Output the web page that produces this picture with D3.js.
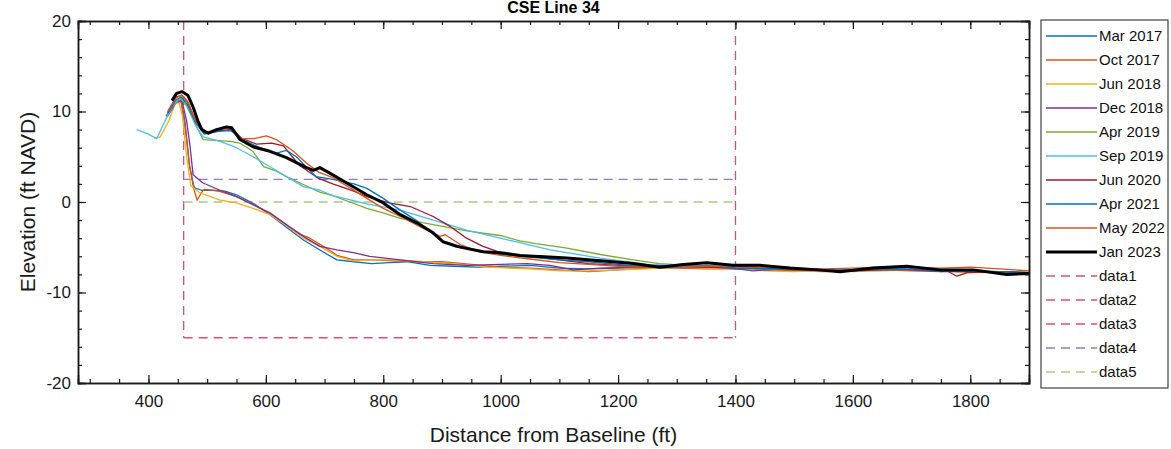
<!DOCTYPE html>
<html>
<head>
<meta charset="utf-8">
<script src="https://cdn.jsdelivr.net/npm/d3@7"></script>
<style>
  body { margin: 0; background: #fff; }
  svg { font-family: "Liberation Sans", Arial, sans-serif; }
</style>
</head>
<body>
<svg width="1171" height="449"></svg>
<script>
// survey profiles, [distance ft, elevation ft NAVD]
var mar2017 = [[430,9.5],[445,11.0],[455,11.3],[462,9],[470,4],[478,1.6],[490,1.3],[510,1.3],[530,1.2],[550,0.8],[580,-0.2],[607,-1.4],[635,-2.8],[664,-4.2],[692,-5.3],[721,-6.4],[750,-6.6],[780,-6.8],[810,-6.7],[840,-6.6],[880,-7.0],[920,-7.1],[960,-7.2],[1000,-7.1],[1050,-7.0],[1100,-7.3],[1150,-7.4],[1200,-7.3],[1250,-7.2],[1300,-7.1],[1350,-7.2],[1400,-7.4],[1450,-7.4],[1500,-7.5],[1550,-7.6],[1600,-7.5],[1650,-7.4],[1700,-7.5],[1750,-7.6],[1800,-7.7],[1850,-7.7],[1900,-7.8]];
var oct2017 = [[432,9.8],[447,11.3],[456,11.0],[463,8],[470,4],[477,1.5],[483,0.2],[490,1.0],[495,1.4],[520,1.2],[550,0.6],[580,-0.3],[607,-1.3],[640,-2.8],[660,-3.6],[675,-4.0],[690,-4.6],[705,-5.2],[721,-5.9],[750,-6.4],[780,-6.4],[820,-6.5],[860,-6.6],[900,-6.6],[950,-6.9],[1000,-7.2],[1050,-7.3],[1100,-7.5],[1150,-7.7],[1200,-7.5],[1250,-7.3],[1300,-7.3],[1350,-7.4],[1400,-7.4],[1450,-7.5],[1500,-7.6],[1550,-7.7],[1600,-7.6],[1650,-7.5],[1700,-7.6],[1750,-7.7],[1800,-7.7],[1850,-7.8],[1900,-7.9]];
var jun2018 = [[410,7.0],[420,7.2],[435,9],[445,10.8],[452,11.0],[458,9.5],[465,5],[472,1.8],[488,1.0],[522,0.2],[550,-0.1],[578,-0.7],[607,-1.4],[635,-2.6],[664,-4.0],[692,-4.9],[721,-6.0],[749,-6.5],[777,-6.4],[820,-6.4],[870,-6.6],[920,-6.8],[980,-7.2],[1050,-7.4],[1100,-7.6],[1150,-7.6],[1200,-7.5],[1250,-7.4],[1300,-7.2],[1350,-7.3],[1400,-7.3],[1450,-7.6],[1500,-7.7],[1550,-7.6],[1600,-7.7],[1650,-7.6],[1700,-7.5],[1750,-7.6],[1800,-7.8],[1850,-7.8],[1900,-7.8]];
var dec2018 = [[433,9.5],[447,11.0],[457,11.2],[465,9],[471,6.1],[476,3.0],[493,2.1],[522,1.3],[550,0.6],[578,-0.3],[607,-1.2],[635,-2.5],[664,-3.8],[692,-4.9],[721,-5.3],[749,-5.6],[777,-6.0],[829,-6.4],[885,-6.8],[942,-7.0],[1000,-6.9],[1045,-6.8],[1084,-7.0],[1124,-7.5],[1169,-7.3],[1230,-7.2],[1280,-7.1],[1330,-7.2],[1380,-7.2],[1430,-7.6],[1480,-7.4],[1530,-7.5],[1580,-7.6],[1630,-7.5],[1680,-7.4],[1730,-7.6],[1780,-7.7],[1830,-7.7],[1900,-7.9]];
var apr2019 = [[430,9.3],[445,11.0],[455,11.4],[465,10.6],[480,8.6],[493,6.9],[539,6.7],[556,6.5],[578,5.6],[596,3.9],[618,3.4],[635,2.8],[658,2.1],[692,1.1],[714,0.7],[743,0.0],[772,-0.7],[800,-1.2],[829,-1.8],[885,-2.5],[942,-3.2],[999,-3.7],[1033,-4.3],[1060,-4.6],[1113,-5.1],[1170,-5.8],[1226,-6.4],[1270,-6.8],[1320,-7.0],[1370,-7.1],[1420,-7.2],[1470,-7.3],[1520,-7.5],[1570,-7.6],[1620,-7.5],[1670,-7.4],[1720,-7.5],[1770,-7.6],[1820,-7.7],[1870,-7.8],[1900,-7.8]];
var sep2019 = [[380,8.0],[400,7.5],[414,7.0],[425,8.5],[440,10.5],[450,11.3],[458,11.5],[468,10.5],[480,8.5],[493,7.2],[522,6.7],[550,6.0],[578,5.0],[607,3.9],[635,2.8],[664,1.7],[692,1.3],[714,0.7],[772,-0.2],[829,-0.9],[885,-2.0],[942,-3.1],[999,-4.0],[1033,-4.5],[1084,-5.3],[1169,-6.2],[1250,-6.9],[1300,-7.0],[1350,-7.1],[1400,-7.3],[1450,-7.4],[1500,-7.4],[1550,-7.5],[1600,-7.6],[1650,-7.5],[1700,-7.4],[1750,-7.5],[1800,-7.6],[1850,-7.7],[1900,-7.8]];
var jun2020 = [[433,10],[447,11.6],[457,11.8],[467,11],[480,9],[495,7.6],[520,7.9],[540,8.0],[560,7.0],[584,6.4],[610,6.5],[630,6.2],[645,5.0],[658,4.0],[690,2.6],[714,2.0],[750,1.2],[772,0.6],[810,-0.1],[846,-0.5],[885,-1.6],[914,-2.7],[942,-4.0],[970,-4.9],[1000,-5.6],[1050,-6.0],[1100,-6.4],[1150,-6.8],[1200,-7.0],[1250,-7.1],[1300,-7.0],[1350,-7.2],[1400,-7.3],[1450,-7.3],[1500,-7.5],[1550,-7.5],[1600,-7.6],[1650,-7.5],[1700,-7.5],[1760,-7.6],[1777,-8.2],[1795,-7.8],[1850,-7.7],[1900,-7.8]];
var apr2021 = [[433,9.8],[447,11.3],[456,11.6],[466,10.8],[480,8.8],[495,7.5],[520,7.8],[540,7.9],[560,6.9],[590,6.0],[618,5.4],[635,5.7],[652,5.0],[670,3.8],[686,2.8],[714,2.5],[750,2.0],[772,1.5],[800,0.4],[829,-0.9],[860,-2.2],[897,-4.2],[942,-5.1],[1000,-5.8],[1050,-6.1],[1100,-6.4],[1150,-6.6],[1200,-6.9],[1250,-7.2],[1300,-7.2],[1350,-7.0],[1400,-7.3],[1450,-7.4],[1500,-7.4],[1550,-7.5],[1600,-7.5],[1650,-7.4],[1700,-7.4],[1750,-7.7],[1800,-7.6],[1850,-7.7],[1900,-7.8]];
var may2022 = [[433,10],[447,11.5],[457,11.8],[468,11],[480,9],[495,7.7],[520,8.0],[540,8.2],[560,7.0],[580,7.0],[601,7.3],[618,6.9],[647,5.6],[669,4.3],[690,3.3],[714,2.7],[745,1.5],[772,0.4],[800,-0.7],[829,-1.6],[874,-3.1],[897,-3.8],[905,-3.6],[931,-4.7],[965,-5.5],[1000,-5.9],[1050,-6.3],[1100,-6.7],[1150,-6.9],[1200,-7.1],[1250,-7.2],[1300,-7.1],[1350,-7.1],[1400,-7.1],[1450,-7.2],[1500,-7.3],[1550,-7.4],[1600,-7.3],[1650,-7.2],[1700,-7.2],[1750,-7.3],[1800,-7.2],[1850,-7.4],[1900,-7.6]];
var jan2023 = [[440,11.2],[448,12.0],[457,12.2],[467,11.8],[476,10.5],[484,9.0],[491,8.0],[502,7.6],[516,8.0],[533,8.3],[542,8.2],[556,6.9],[578,6.1],[607,5.6],[635,4.9],[669,3.8],[681,3.5],[692,3.8],[714,3.0],[743,1.9],[772,0.8],[800,-0.1],[829,-1.4],[857,-2.3],[885,-3.4],[902,-4.4],[925,-4.9],[970,-5.5],[1000,-5.6],[1033,-5.9],[1113,-6.2],[1170,-6.5],[1226,-6.8],[1271,-7.2],[1311,-6.9],[1351,-6.7],[1396,-7.0],[1442,-7.0],[1493,-7.3],[1540,-7.5],[1578,-7.7],[1634,-7.3],[1692,-7.1],[1748,-7.5],[1805,-7.5],[1862,-8.0],[1900,-7.9]];

// reference dashed lines
var data1 = [[460,20],[460,-15]];
var data2 = [[460,-15],[1400,-15]];
var data3 = [[1400,20],[1400,-15]];
var data4 = [[460,2.5],[1400,2.5]];
var data5 = [[460,0],[1400,0]];

var seriesNames = ["Mar 2017","Oct 2017","Jun 2018","Dec 2018","Apr 2019","Sep 2019","Jun 2020","Apr 2021","May 2022","Jan 2023","data1","data2","data3","data4","data5"];
var seriesData = [mar2017,oct2017,jun2018,dec2018,apr2019,sep2019,jun2020,apr2021,may2022,jan2023,data1,data2,data3,data4,data5];
var seriesColors = ["#0072BD","#D95319","#EDB120","#7E2F8E","#77AC30","#4DBEEE","#A2142F","#0072BD","#D95319","#000000","#C9557A","#E04F6F","#E04F6F","#8A7FC4","#A9CC86"];

var xTicks = [400,600,800,1000,1200,1400,1600,1800];
var yTicks = [-20,-10,0,10,20];

var svg = d3.select("svg");
var plotL = 78, plotR = 1029, plotT = 21, plotB = 383;

var x = d3.scaleLinear().domain([280,1900]).range([plotL,plotR]);
var y = d3.scaleLinear().domain([-20,20]).range([plotB,plotT]);

var line = d3.line()
  .x(d => x(d[0]))
  .y(d => y(d[1]));

// draw order: dashed guides first, then surveys, Jan 2023 on top
var order = [10,11,12,13,14,0,1,2,3,4,5,6,7,8,9];
order.forEach(i => {
  var dashed = i >= 10;
  svg.append("path")
    .attr("d", line(seriesData[i]))
    .attr("fill", "none")
    .attr("stroke", seriesColors[i])
    .attr("stroke-width", i == 9 ? 3 : 1.3)
    .attr("stroke-dasharray", dashed ? "9,6" : null)
    .attr("stroke-linejoin", "round");
});

// axes with inward ticks on all four sides
var minorX = d3.range(300,1900,50);
var minorY = d3.range(-20,21,2);
var fmt = d => String(d);   // plain hyphen minus like the original

function styleAxis(g) {
  g.selectAll("path").attr("stroke", "#1a1a1a").attr("stroke-width", 1.5);
  g.selectAll("line").attr("stroke", "#1a1a1a").attr("stroke-width", 1.2);
  g.selectAll("text").attr("fill", "#1a1a1a").attr("font-size", 17)
    .attr("font-family", "Liberation Sans, Arial, sans-serif");
}

svg.append("g").attr("transform", `translate(0,${plotB})`)
  .call(d3.axisBottom(x).tickValues(minorX).tickSize(-4).tickFormat("")).call(styleAxis);
svg.append("g").attr("transform", `translate(0,${plotB})`)
  .call(d3.axisBottom(x).tickValues(xTicks).tickSize(-8).tickPadding(12).tickFormat(fmt)).call(styleAxis);
svg.append("g").attr("transform", `translate(0,${plotT})`)
  .call(d3.axisTop(x).tickValues(minorX).tickSize(-4).tickFormat("")).call(styleAxis);
svg.append("g").attr("transform", `translate(0,${plotT})`)
  .call(d3.axisTop(x).tickValues(xTicks).tickSize(-8).tickFormat("")).call(styleAxis);

svg.append("g").attr("transform", `translate(${plotL},0)`)
  .call(d3.axisLeft(y).tickValues(minorY).tickSize(-4).tickFormat("")).call(styleAxis);
svg.append("g").attr("transform", `translate(${plotL},0)`)
  .call(d3.axisLeft(y).tickValues(yTicks).tickSize(-8).tickPadding(7).tickFormat(fmt)).call(styleAxis);
svg.append("g").attr("transform", `translate(${plotR},0)`)
  .call(d3.axisRight(y).tickValues(minorY).tickSize(-4).tickFormat("")).call(styleAxis);
svg.append("g").attr("transform", `translate(${plotR},0)`)
  .call(d3.axisRight(y).tickValues(yTicks).tickSize(-8).tickFormat("")).call(styleAxis);

// titles
svg.append("text")
  .attr("x", (plotL + plotR) / 2).attr("y", 13)
  .attr("text-anchor", "middle")
  .attr("font-size", 16).attr("font-weight", "bold")
  .text("CSE Line 34");

svg.append("text")
  .attr("x", (plotL + plotR) / 2).attr("y", 442)
  .attr("text-anchor", "middle")
  .attr("font-size", 21).attr("fill", "#1a1a1a")
  .text("Distance from Baseline (ft)");

svg.append("text")
  .attr("transform", `translate(35,${(plotT + plotB) / 2}) rotate(-90)`)
  .attr("text-anchor", "middle")
  .attr("font-size", 21).attr("fill", "#1a1a1a")
  .text("Elevation (ft NAVD)");

// legend
var lg = svg.append("g");
lg.append("rect")
  .attr("x", 1041).attr("y", 20).attr("width", 127).attr("height", 368)
  .attr("fill", "#fff").attr("stroke", "#1a1a1a").attr("stroke-width", 1);

seriesNames.forEach((name, i) => {
  var yy = 36 + i * 24;
  lg.append("line")
    .attr("x1", 1046).attr("x2", 1097).attr("y1", yy).attr("y2", yy)
    .attr("stroke", seriesColors[i])
    .attr("stroke-width", i == 9 ? 3 : 1.3)
    .attr("stroke-dasharray", i >= 10 ? "9,6" : null);
  lg.append("text")
    .attr("x", 1099).attr("y", yy + 5)
    .attr("font-size", 15).attr("fill", "#111")
    .text(name);
});
</script>
</body>
</html>
